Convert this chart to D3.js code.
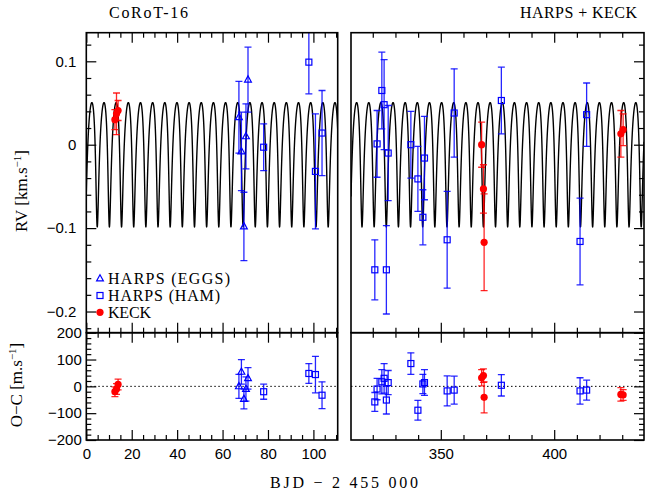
<!DOCTYPE html>
<html><head><meta charset="utf-8">
<script src="https://cdn.jsdelivr.net/npm/d3@7"></script>
<style>
body{margin:0;background:#fff}
svg{display:block}
.tick text{font-family:"Liberation Sans",Arial,sans-serif;font-size:15px;fill:#000}
.tick line{stroke:#000;stroke-width:1.2}
.lab{font-family:"Liberation Serif","Times New Roman",serif;font-size:16px;fill:#000}
</style>
</head><body>
<svg id="c" width="645" height="497"></svg>
<script>
// ---------------- data ----------------
// HARPS (EGGS) : open triangles
const eggsT      = [67.2, 68.3, 69.4, 70.3, 71.2];
const eggsRV     = [0.033, -0.008, -0.098, 0.010, 0.078];
const eggsErr    = [0.043, 0.047, 0.041, 0.039, 0.039];
const eggsRes    = [0, 54, -47, -10, 30];
const eggsResErr = [45, 46, 37, 45, 40];
// HARPS (HAM) : open squares
const hamT      = [78.1, 98.0, 100.9, 103.8, 320.9, 321.9, 324.0, 325.0, 326.0, 326.8, 336.8, 339.9, 342.1, 342.8, 352.8, 355.9, 376.7, 411.4, 414.3];
const hamRV     = [-0.003, 0.099, -0.032, 0.014, -0.150, 0.001, 0.065, 0.048, -0.150, -0.010, 0.000, -0.041, -0.087, -0.016, -0.114, 0.038, 0.053, -0.116, 0.036];
const hamErr    = [0.028, 0.038, 0.069, 0.051, 0.036, 0.040, 0.046, 0.054, 0.053, 0.057, 0.040, 0.039, 0.033, 0.050, 0.058, 0.053, 0.040, 0.052, 0.038];
const hamRes    = [-20, 48, 44, -33, -58, -10, 17, 30, -51, 14, 85, -89, 9, 14, -17, -14, 4, -17, -14];
const hamResErr = [28, 37, 68, 50, 35, 40, 45, 55, 52, 45, 40, 37, 36, 48, 56, 52, 40, 49, 37];
// KECK : filled circles
const keckT      = [12.6, 13.3, 14.0, 368.0, 368.8, 369.1, 429.4, 430.4];
const keckRV     = [0.030, 0.037, 0.041, 0.000, -0.053, -0.117, 0.013, 0.018];
const keckErr    = [0.012, 0.025, 0.012, 0.027, 0.029, 0.058, 0.028, 0.019];
const keckRes    = [-20, -10, 7, 32, 40, -41, -30, -32];
const keckResErr = [18, 20, 20, 30, 25, 58, 25, 20];
// orbit model parameters (Keplerian)
const period = 5.3523, ecc = 0.33, omegaDeg = 165, semiAmp = 0.0745, rvOffset = -0.024, tMaxRV = 2.45;
// ticks
const xMajorLeft  = [0, 20, 40, 60, 80, 100];
const xMajorRight = [350, 400];
const rvTicks = [0.1, 0, -0.1, -0.2];
const ocTicks = [200, 100, 0, -100, -200];
const titleLeft = "CoRoT-16", titleRight = "HARPS + KECK";
const legendNames = ["HARPS (EGGS)", "HARPS (HAM)", "KECK"];

// ---------------- layout ----------------
const svg = d3.select("#c");
const panels = [
  {x0: 86.3, x1: 337.7, dom: [0, 110.7], major: xMajorLeft, minorStep: 5, side: "left"},
  {x0: 351, x1: 644, dom: [310.4, 439.6], major: xMajorRight, minorStep: 10, side: "right"}
];
const yTop = d3.scaleLinear().domain([0.1343, -0.2254]).range([32.7, 332.7]);
const yBot = d3.scaleLinear().domain([200, -200]).range([332.7, 440]);
const blue = "#0000ff", red = "#ff0000";

// Keplerian model
const w = omegaDeg * Math.PI / 180;
function meanFromTrue(nu){
  const E = 2 * Math.atan2(Math.sqrt(1 - ecc) * Math.sin(nu / 2), Math.sqrt(1 + ecc) * Math.cos(nu / 2));
  return E - ecc * Math.sin(E);
}
const Mmax = meanFromTrue(-w);
const tPeri = tMaxRV - Mmax / (2 * Math.PI) * period;
function model(t){
  let M = 2 * Math.PI * (t - tPeri) / period;
  M = M - 2 * Math.PI * Math.floor(M / (2 * Math.PI));
  let E = M;
  for (let i = 0; i < 30; i++) E = E - (E - ecc * Math.sin(E) - M) / (1 - ecc * Math.cos(E));
  const nu = 2 * Math.atan2(Math.sqrt(1 + ecc) * Math.sin(E / 2), Math.sqrt(1 - ecc) * Math.cos(E / 2));
  return rvOffset + semiAmp * Math.cos(nu + w);
}

function minorVals(dom, step){
  const out = [];
  for (let v = Math.ceil(dom[0] / step) * step; v <= dom[1]; v += step) out.push(+v.toFixed(6));
  return out;
}
function zip(T, V, E){ return T.map((t, i) => ({t, v: V[i], e: E[i]})); }

const defs = svg.append("defs");

panels.forEach((p, pi) => {
  const x = d3.scaleLinear().domain(p.dom).range([p.x0, p.x1]);
  const rows = [
    {y: yTop, y0: 32.7, y1: 332.7, key: "rv"},
    {y: yBot, y0: 332.7, y1: 440, key: "oc"}
  ];
  rows.forEach((r, ri) => {
    const cid = "clip" + pi + ri;
    defs.append("clipPath").attr("id", cid).append("rect")
      .attr("x", p.x0).attr("y", r.y0).attr("width", p.x1 - p.x0).attr("height", r.y1 - r.y0);
    const g = svg.append("g");
    const plot = g.append("g").attr("clip-path", `url(#${cid})`);

    const minX = minorVals(p.dom, p.minorStep).filter(v => !p.major.includes(v));
    const addX = (gen, yPos, vals, size, labels) => {
      const a = g.append("g").attr("transform", `translate(0,${yPos})`)
        .call(gen(x).tickValues(vals).tickSize(size).tickSizeOuter(0).tickPadding(8.5)
          .tickFormat(labels ? d3.format("d") : () => ""));
      a.select(".domain").remove();
      return a;
    };
    addX(d3.axisTop, r.y0, minX, -5, false);
    addX(d3.axisTop, r.y0, p.major, -10, false);
    addX(d3.axisBottom, r.y1, minX, -5, false);
    addX(d3.axisBottom, r.y1, p.major, -10, r.key === "oc");

    const yMajor = r.key === "rv" ? rvTicks : ocTicks;
    const yMinor = r.key === "rv"
      ? d3.range(-0.22, 0.1341, 0.02).map(v => +v.toFixed(2)).filter(v => Math.abs(v * 10 - Math.round(v * 10)) > 1e-6)
      : d3.range(-180, 200, 20).filter(v => v % 100 !== 0);
    const side = p.side === "left" ? d3.axisLeft : d3.axisRight;
    const xPos = p.side === "left" ? p.x0 : p.x1;
    const ym = g.append("g").attr("transform", `translate(${xPos},0)`)
      .call(side(r.y).tickValues(yMinor).tickSize(-5).tickFormat(() => ""));
    ym.select(".domain").remove();
    const showLab = p.side === "left";
    const fmt = r.key === "rv" ? (d => d === 0 ? "0" : d3.format(".1f")(d).replace("-", "−")) : (d => String(d).replace("-", "−"));
    const yM = g.append("g").attr("transform", `translate(${xPos},0)`)
      .call(side(r.y).tickValues(yMajor).tickSize(-10).tickPadding(r.key === "rv" ? 10 : 4.5)
        .tickFormat(showLab ? fmt : () => ""));
    yM.select(".domain").remove();

    g.append("rect").attr("x", p.x0).attr("y", r.y0).attr("width", p.x1 - p.x0).attr("height", r.y1 - r.y0)
      .attr("fill", "none").attr("stroke", "#000").attr("stroke-width", 1.6);

    const inP = d => d.t >= p.dom[0] && d.t <= p.dom[1];

    if (r.key === "rv") {
      const pts = d3.range(p.dom[0], p.dom[1] + 0.01, 0.01).map(t => [t, model(t)]);
      plot.append("path").datum(pts)
        .attr("d", d3.line().x(d => x(d[0])).y(d => r.y(d[1])))
        .attr("fill", "none").attr("stroke", "#000").attr("stroke-width", 1.4);
    } else {
      plot.append("line").attr("x1", p.x0).attr("x2", p.x1).attr("y1", r.y(0)).attr("y2", r.y(0))
        .attr("stroke", "#000").attr("stroke-width", 1).attr("stroke-dasharray", "1.5,2.5");
    }

    const series = r.key === "rv"
      ? [{d: zip(eggsT, eggsRV, eggsErr), c: blue, s: "tri"}, {d: zip(hamT, hamRV, hamErr), c: blue, s: "sq"}, {d: zip(keckT, keckRV, keckErr), c: red, s: "dot"}]
      : [{d: zip(eggsT, eggsRes, eggsResErr), c: blue, s: "tri"}, {d: zip(hamT, hamRes, hamResErr), c: blue, s: "sq"}, {d: zip(keckT, keckRes, keckResErr), c: red, s: "dot"}];

    series.forEach(s => {
      const data = s.d.filter(inP);
      const eb = plot.append("g").attr("stroke", s.c).attr("stroke-width", 1.3).attr("stroke-opacity", 0.85);
      data.forEach(d => {
        const cx = x(d.t), ya = r.y(d.v + d.e), yb = r.y(d.v - d.e);
        eb.append("line").attr("x1", cx).attr("x2", cx).attr("y1", ya).attr("y2", yb);
        eb.append("line").attr("x1", cx - 3.5).attr("x2", cx + 3.5).attr("y1", ya).attr("y2", ya);
        eb.append("line").attr("x1", cx - 3.5).attr("x2", cx + 3.5).attr("y1", yb).attr("y2", yb);
      });
      drawMarkers(plot, data.map(d => [x(d.t), r.y(d.v)]), s.s, s.c);
    });
  });
});

function drawMarkers(g, pts, shape, col){
  pts.forEach(([cx, cy]) => {
    if (shape === "tri") {
      g.append("path").attr("d", `M${cx},${cy - 3.8}L${cx + 3.4},${cy + 2.4}L${cx - 3.4},${cy + 2.4}Z`)
        .attr("fill", "none").attr("stroke", col).attr("stroke-width", 1.2);
    } else if (shape === "sq") {
      g.append("rect").attr("x", cx - 3).attr("y", cy - 3).attr("width", 6).attr("height", 6)
        .attr("fill", "none").attr("stroke", col).attr("stroke-width", 1.2);
    } else {
      g.append("circle").attr("cx", cx).attr("cy", cy).attr("r", 3.6).attr("fill", col);
    }
  });
}

// legend
const legY = [278.5, 295.5, 312.3], legW = [122, 112, 43], legShapes = ["tri", "sq", "dot"], legCols = [blue, blue, red];
legendNames.forEach((n, i) => {
  drawMarkers(svg, [[100, legY[i]]], legShapes[i], legCols[i]);
  svg.append("text").attr("class", "lab").attr("x", 108).attr("y", legY[i] + 5.5)
    .attr("textLength", legW[i]).attr("lengthAdjust", "spacing").text(n);
});

// titles
svg.append("text").attr("class", "lab").attr("x", 109).attr("y", 18).attr("textLength", 79)
  .attr("lengthAdjust", "spacing").text(titleLeft);
svg.append("text").attr("class", "lab").attr("x", 520).attr("y", 18).attr("textLength", 117)
  .attr("lengthAdjust", "spacing").text(titleRight);

// axis labels
svg.append("text").attr("class", "lab").attr("x", 270).attr("y", 488).attr("textLength", 148)
  .attr("lengthAdjust", "spacing").text("BJD − 2 455 000");

function vLabel(cx, cy, main){
  const t = svg.append("text").attr("class", "lab").style("font-size", "17px")
    .attr("transform", `translate(${cx},${cy}) rotate(-90)`).attr("text-anchor", "middle");
  t.append("tspan").text(main);
  t.append("tspan").attr("font-size", "11px").attr("dy", "-6").text("−1");
  t.append("tspan").attr("dy", "6").text("]");
}
vLabel(27, 191, "RV [km.s");
vLabel(22, 385, "O−C [m.s");
</script>
</body></html>
